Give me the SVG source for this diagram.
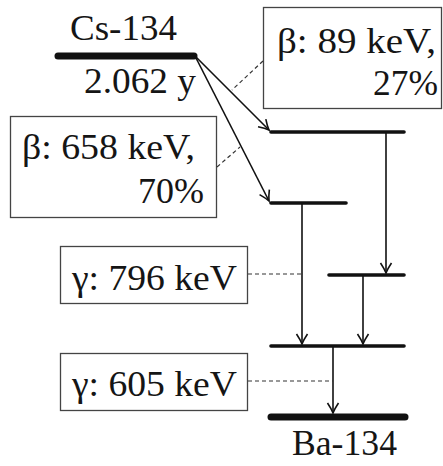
<svg xmlns="http://www.w3.org/2000/svg" width="443" height="466" viewBox="0 0 443 466">
  <style>
    .box { fill: #ffffff; stroke: #444444; stroke-width: 1.3; }
    .lead { fill: none; stroke: #333333; stroke-width: 1.2; stroke-dasharray: 4 3; }
    .lvl { stroke: #111111; stroke-width: 3.6; stroke-linecap: round; }
    .gs { stroke: #111111; stroke-width: 7; stroke-linecap: round; }
    .tr { fill: none; stroke: #111111; stroke-width: 1.6; marker-end: url(#head); }
  </style>
  <defs>
    <marker id="head" markerUnits="userSpaceOnUse" markerWidth="14" markerHeight="14" viewBox="-11 -7 12 14" refX="0" refY="0" orient="auto">
      <path d="M-10,-5.5 Q-4,-1.5 0,0 Q-4,1.5 -10,5.5" fill="none" stroke="#111111" stroke-width="1.6" stroke-linejoin="miter"/>
    </marker>
  </defs>

  <g font-family="Liberation Serif, Times New Roman, DejaVu Serif, serif" font-size="35" fill="#151515">
    <!-- energy levels -->
    <g id="cs134">
      <line class="gs" x1="58" y1="56" x2="194" y2="56"/>
      <text x="70" y="40" textLength="107" lengthAdjust="spacingAndGlyphs">Cs-134</text>
      <text x="84" y="93" textLength="112" lengthAdjust="spacingAndGlyphs">2.062 y</text>
    </g>
    <g id="level-a"><line class="lvl" x1="271" y1="132" x2="404" y2="132"/></g>
    <g id="level-b"><line class="lvl" x1="271" y1="203" x2="346" y2="203"/></g>
    <g id="level-c"><line class="lvl" x1="329" y1="275" x2="404" y2="275"/></g>
    <g id="level-d"><line class="lvl" x1="271" y1="346" x2="404" y2="346"/></g>
    <g id="ba134">
      <line class="gs" x1="271" y1="417" x2="405" y2="417"/>
      <text x="292" y="455" textLength="105" lengthAdjust="spacingAndGlyphs">Ba-134</text>
    </g>

    <!-- label boxes -->
    <g id="beta-89">
      <rect class="box" x="263.5" y="7.5" width="178" height="101"/>
      <text x="277" y="53" textLength="159" lengthAdjust="spacingAndGlyphs">β: 89 keV,</text>
      <text x="373" y="95" textLength="65" lengthAdjust="spacingAndGlyphs">27%</text>
    </g>
    <g id="beta-658">
      <rect class="box" x="10.5" y="116.5" width="206" height="101"/>
      <text x="22" y="159" textLength="173" lengthAdjust="spacingAndGlyphs">β: 658 keV,</text>
      <text x="138" y="203" textLength="66" lengthAdjust="spacingAndGlyphs">70%</text>
    </g>
    <g id="gamma-796">
      <rect class="box" x="60.5" y="246.5" width="187" height="57"/>
      <text x="72" y="290" textLength="165" lengthAdjust="spacingAndGlyphs">γ: 796 keV</text>
    </g>
    <g id="gamma-605">
      <rect class="box" x="60.5" y="353.5" width="187" height="57"/>
      <text x="72" y="396" textLength="165" lengthAdjust="spacingAndGlyphs">γ: 605 keV</text>
    </g>
  </g>

  <!-- transitions and leaders -->
  <g id="connectors">
    <line class="tr" x1="195" y1="56" x2="269" y2="130"/>
    <line class="tr" x1="195" y1="56" x2="269" y2="201"/>
    <line class="tr" x1="386" y1="133" x2="386" y2="273"/>
    <line class="tr" x1="302" y1="204" x2="302" y2="344"/>
    <line class="tr" x1="363" y1="276" x2="363" y2="344"/>
    <line class="tr" x1="333" y1="347" x2="333" y2="413"/>
    <line class="lead" x1="263" y1="61" x2="232" y2="90"/>
    <line class="lead" x1="217" y1="167" x2="240" y2="147"/>
    <line class="lead" x1="248" y1="274" x2="302" y2="274"/>
    <line class="lead" x1="248" y1="381" x2="333" y2="381"/>
  </g>
</svg>
